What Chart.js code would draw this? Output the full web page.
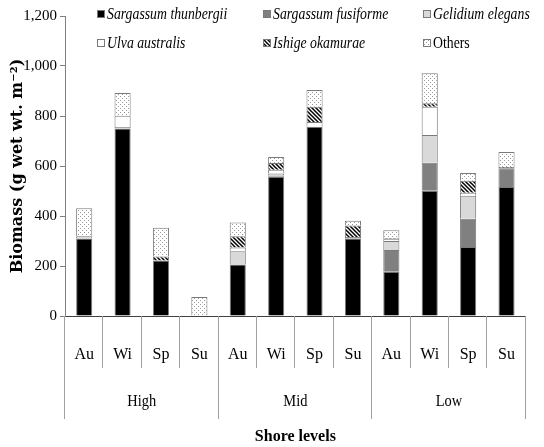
<!DOCTYPE html>
<html lang="en">
<head>
<meta charset="UTF-8">
<title>Seaweed biomass by shore level</title>
<style>
  html, body { margin: 0; padding: 0; background: #fff; }
  canvas { display: block; }
</style>
</head>
<body>
<canvas id="myChart" width="544" height="447"></canvas>

<script src="https://cdn.jsdelivr.net/npm/chart.js"></script>
<script>
    // Categories
    const seasons = ['Au', 'Wi', 'Sp', 'Su'];
    const shoreLevels = ['High', 'Mid', 'Low'];

    // Biomass (g wet wt. m-2), order: High Au..Su, Mid Au..Su, Low Au..Su
    const thunbergii = [310, 750, 222, 0, 206, 557, 757, 310, 177, 501, 276, 516];
    const fusiforme  = [0, 0, 0, 0, 0, 5, 0, 6, 87, 112, 113, 75];
    const gelidium   = [9, 6, 0, 0, 53, 8, 0, 0, 36, 111, 92, 0];
    const ulva       = [0, 45, 0, 0, 15, 15, 19, 0, 9, 113, 12, 0];
    const ishige     = [0, 0, 16, 0, 45, 27, 61, 46, 3, 14, 48, 5];
    const others     = [112, 91, 115, 76, 55, 24, 67, 19, 31, 120, 31, 60];

    // y axis ticks
    const yTicks = [0, 200, 400, 600, 800, 1000, 1200];

    const labels = shoreLevels.flatMap(() => seasons);

    // fill patterns
    function dotPattern() {
        const c = document.createElement('canvas');
        c.width = 4; c.height = 4;
        const g = c.getContext('2d');
        g.fillStyle = '#fff';
        g.fillRect(0, 0, 4, 4);
        g.fillStyle = '#9a9a9a';
        g.fillRect(0, 0, 1, 1);
        g.fillRect(2, 2, 1, 1);
        return g.createPattern(c, 'repeat');
    }

    function hatchPattern() {
        const c = document.createElement('canvas');
        c.width = 4; c.height = 4;
        const g = c.getContext('2d');
        g.fillStyle = '#fff';
        g.fillRect(0, 0, 4, 4);
        g.strokeStyle = '#000';
        g.lineWidth = 1.5;
        g.beginPath();
        g.moveTo(-1, -1); g.lineTo(5, 5);
        g.moveTo(-1, 3); g.lineTo(1, 5);
        g.moveTo(3, -1); g.lineTo(5, 1);
        g.stroke();
        return g.createPattern(c, 'repeat');
    }

    const edge = '#7a7a7a';

    function series(label, data, fill, italic) {
        return {
            label: label,
            data: data,
            backgroundColor: fill,
            borderColor: edge,
            borderWidth: 1,
            italic: italic
        };
    }

    const datasets = [
        series('Sargassum thunbergii', thunbergii, '#000', true),
        series('Sargassum fusiforme', fusiforme, '#808080', true),
        series('Gelidium elegans', gelidium, '#d9d9d9', true),
        series('Ulva australis', ulva, '#fff', true),
        series('Ishige okamurae', ishige, hatchPattern(), true),
        series('Others', others, dotPattern(), false)
    ];

    // legend in 2 rows x 3 columns inside the plot
    const gridLegend = {
        id: 'gridLegend',
        afterDraw(chart) {
            const ctx = chart.ctx;
            const cols = [97, 263, 423];
            const rows = [15, 44];
            ctx.save();
            chart.data.datasets.forEach((ds, i) => {
                const x = cols[i % 3];
                const y = rows[Math.floor(i / 3)];
                ctx.fillStyle = ds.backgroundColor;
                ctx.fillRect(x, y - 5, 8, 8);
                ctx.strokeStyle = edge;
                ctx.lineWidth = 1;
                ctx.strokeRect(x + 0.5, y - 4.5, 7, 7);
                ctx.fillStyle = '#000';
                ctx.font = (ds.italic ? 'italic ' : '') + '17px "Liberation Serif"';
                ctx.textBaseline = 'middle';
                const w = ctx.measureText(ds.label).width;
                ctx.fillText(ds.label, x + 10, y, w * 0.81);
            });
            ctx.restore();
        }
    };

    // separators and shore level labels under the x axis
    const shoreAxis = {
        id: 'shoreAxis',
        afterDraw(chart) {
            const ctx = chart.ctx;
            const x = chart.scales.x;
            const n = labels.length;
            const step = x.width / n;
            ctx.save();
            ctx.strokeStyle = '#a0a0a0';
            ctx.lineWidth = 1;
            for (let i = 0; i <= n; i++) {
                const px = Math.round(x.left + i * step) - 0.5;
                const len = (i % seasons.length === 0) ? 103 : 52;
                ctx.beginPath();
                ctx.moveTo(px, x.top);
                ctx.lineTo(px, x.top + len);
                ctx.stroke();
            }
            ctx.fillStyle = '#000';
            ctx.font = '17px "Liberation Serif"';
            ctx.textAlign = 'center';
            ctx.textBaseline = 'middle';
            shoreLevels.forEach((lvl, g) => {
                const a = x.getPixelForValue(g * 4);
                const b = x.getPixelForValue(g * 4 + 3);
                const w = ctx.measureText(lvl).width;
                ctx.fillText(lvl, (a + b) / 2, x.top + 86, w * 0.85);
            });
            ctx.restore();
        }
    };

    const ctx = document.getElementById('myChart').getContext('2d');
    new Chart(ctx, {
        type: 'bar',
        data: { labels: labels, datasets: datasets },
        plugins: [gridLegend, shoreAxis],
        options: {
            responsive: false,
            animation: false,
            layout: { padding: { top: 16, right: 1, bottom: 0, left: 0 } },
            plugins: {
                legend: { display: false },
                tooltip: { enabled: false }
            },
            datasets: {
                bar: { barPercentage: 0.42, categoryPercentage: 1 }
            },
            scales: {
                x: {
                    stacked: true,
                    offset: true,
                    grid: { display: false, drawTicks: false },
                    border: { display: true, color: '#404040', width: 1 },
                    ticks: {
                        color: '#000',
                        padding: 29,
                        maxRotation: 0,
                        autoSkip: false,
                        font: { family: 'Liberation Serif', size: 16 }
                    },
                    title: {
                        display: true,
                        text: 'Shore levels',
                        color: '#000',
                        padding: { top: 0, bottom: 1 },
                        font: { family: 'Liberation Serif', size: 16, weight: 'bold' }
                    },
                    afterFit(scale) { scale.height = 131; }
                },
                y: {
                    stacked: true,
                    min: 0,
                    max: 1200,
                    afterBuildTicks(scale) {
                        scale.ticks = yTicks.map(v => ({ value: v }));
                    },
                    grid: { drawOnChartArea: false, drawTicks: true, tickLength: 5, color: '#808080' },
                    border: { display: true, color: '#808080', width: 1 },
                    ticks: {
                        color: '#000',
                        padding: 3,
                        font: { family: 'Liberation Serif', size: 15 }
                    },
                    title: {
                        display: true,
                        text: 'Biomass (g wet wt. m\u207B\u00B2)',
                        color: '#000',
                        padding: { top: 8, bottom: 0 },
                        font: { family: 'DejaVu Serif', size: 16, weight: 'bold' }
                    },
                    afterFit(scale) { scale.width = 65; }
                }
            }
        }
    });
</script>
</body>
</html>
